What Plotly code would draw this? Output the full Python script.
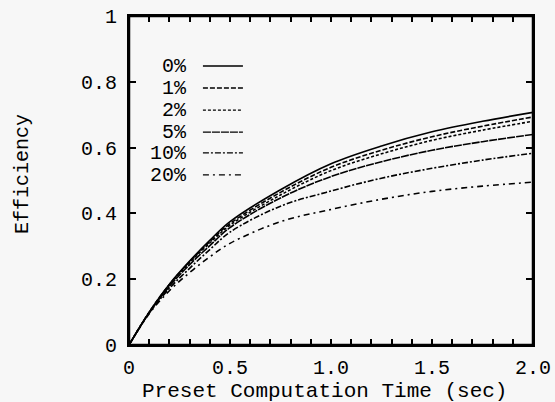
import plotly.graph_objects as go

# ---- data ----
time_s = [0, 0.1, 0.2, 0.3, 0.4, 0.5, 0.75, 1.0, 1.25, 1.5, 1.75, 2.0]
eff_0 = [0, 0.100, 0.185, 0.255, 0.318, 0.375, 0.472, 0.551, 0.605, 0.648, 0.680, 0.707]
eff_1 = [0, 0.100, 0.184, 0.253, 0.314, 0.369, 0.464, 0.540, 0.592, 0.633, 0.665, 0.693]
eff_2 = [0, 0.099, 0.182, 0.250, 0.310, 0.364, 0.456, 0.530, 0.581, 0.622, 0.653, 0.680]
eff_5 = [0, 0.098, 0.178, 0.244, 0.302, 0.357, 0.447, 0.512, 0.557, 0.592, 0.618, 0.640]
eff_10 = [0, 0.097, 0.172, 0.233, 0.290, 0.343, 0.422, 0.468, 0.507, 0.537, 0.562, 0.583]
eff_20 = [0, 0.095, 0.165, 0.220, 0.268, 0.309, 0.375, 0.412, 0.443, 0.467, 0.483, 0.495]
series_labels = ["0%", "1%", "2%", "5%", "10%", "20%"]

x_tickvals = [i / 10 for i in range(21)]
x_ticktext = ["0" if v == 0 else (f"{v:.1f}" if abs(v * 2 - round(v * 2)) < 1e-9 else "") for v in x_tickvals]
y_tickvals = [0, 0.2, 0.4, 0.6, 0.8, 1.0]
y_ticktext = ["0", "0.2", "0.4", "0.6", "0.8", "1"]
x_title = "Preset Computation Time (sec)"
y_title = "Efficiency"

series = [eff_0, eff_1, eff_2, eff_5, eff_10, eff_20]
dashes = ["solid", "5px,2px", "3px,2px", "8px,1px", "6px,2px,2px,2px", "6px,4px,2px,4px"]

FONT = "Liberation Mono"
BG = "#f7f7f7"

fig = go.Figure()
for lab, ys, d in zip(series_labels, series, dashes):
    fig.add_trace(go.Scatter(x=time_s, y=ys, mode="lines", name=lab,
                             line=dict(color="black", width=1.6, dash=d, shape="spline", smoothing=1.0),
                             showlegend=False))

# legend key (text left of line sample)
leg_y = [0.848, 0.781, 0.714, 0.647, 0.584, 0.517]
for lab, yy, d in zip(series_labels, leg_y, dashes):
    fig.add_annotation(x=0.297, y=yy, xref="x", yref="y", text=lab, showarrow=False,
                       xanchor="right", yanchor="middle", height=20,
                       font=dict(family=FONT, size=20, color="black"))
    fig.add_shape(type="line", xref="x", yref="y", x0=0.366, x1=0.564, y0=yy, y1=yy,
                  line=dict(color="black", width=1.4, dash=d))

# frame around the plot area
fig.add_shape(type="rect", xref="paper", yref="paper", x0=0, x1=1, y0=0, y1=1,
              line=dict(color="black", width=2.5), fillcolor="rgba(0,0,0,0)")

# axis titles
fig.add_annotation(x=0.485, y=-0.14, xref="paper", yref="paper", text=x_title, showarrow=False,
                   xanchor="center", yanchor="middle", height=20,
                   font=dict(family=FONT, size=21, color="black"))
fig.add_annotation(x=-0.262, y=0.52, xref="paper", yref="paper", text=y_title, showarrow=False,
                   textangle=-90, xanchor="center", yanchor="middle",
                   font=dict(family=FONT, size=20, color="black"))

axis_common = dict(showline=True, linecolor="black", linewidth=2, mirror="allticks",
                   ticks="inside", tickcolor="black", tickwidth=1.5,
                   showgrid=False, zeroline=False, automargin=False,
                   tickfont=dict(family=FONT, size=20, color="black"))

fig.update_xaxes(range=[0, 2.0], tickmode="array", tickvals=x_tickvals, ticktext=x_ticktext,
                 ticklen=6, ticklabelstandoff=3, **axis_common)
fig.update_yaxes(range=[0, 1.0], tickmode="array", tickvals=y_tickvals, ticktext=y_ticktext,
                 ticklen=7, ticklabelstandoff=6, **axis_common)

fig.update_layout(width=555, height=402,
                  margin=dict(l=129, r=22, t=16, b=57),
                  paper_bgcolor=BG, plot_bgcolor=BG,
                  font=dict(family=FONT, size=20, color="black"))

# remove the page's default 8px body margin so the figure sits at the window's corner
fig.write_html("out.html", config={"displayModeBar": False},
               post_script="document.body.style.margin='0';document.body.style.background='" + BG + "';")
